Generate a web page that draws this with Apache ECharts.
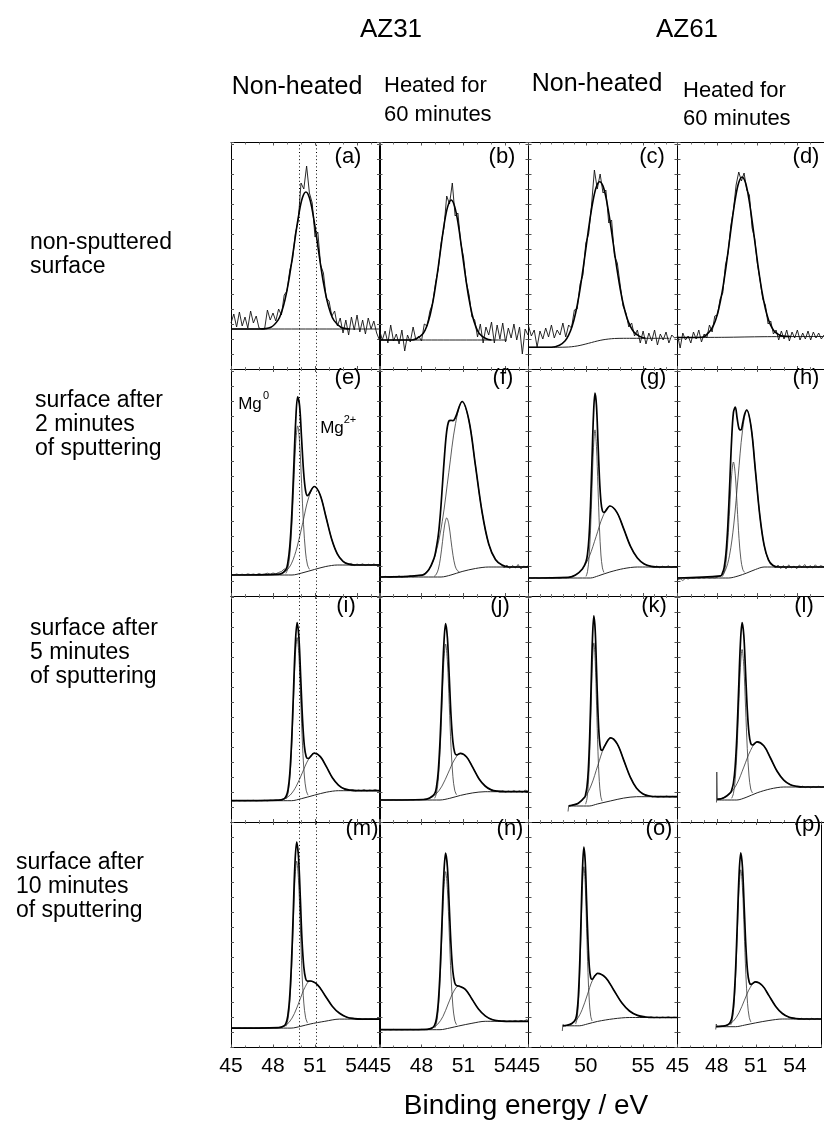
<!DOCTYPE html>
<html>
<head>
<meta charset="utf-8">
<script src="https://cdn.jsdelivr.net/npm/echarts@6/dist/echarts.min.js"></script>
<style>
  html, body { margin: 0; padding: 0; background: #fff; }
  #chart { width: 824px; height: 1133px; }
</style>
</head>
<body>
<div id="chart"></div>
<script>
// ---------- energy grids of the recorded spectra (eV) ----------
const eV_ab = [45,45.2,45.4,45.6,45.8,46,46.2,46.4,46.6,46.8,47,47.2,47.4,47.6,47.8,48,48.2,48.4,48.6,48.8,49,49.2,49.4,49.6,49.8,50,50.2,50.4,50.6,50.8,51,51.2,51.4,51.6,51.8,52,52.2,52.4,52.6,52.8,53,53.2,53.4,53.6,53.8,54,54.2,54.4,54.6,54.8,55,55.2,55.4,55.6];
const eV_c = [45,45.25,45.5,45.75,46,46.25,46.5,46.75,47,47.25,47.5,47.75,48,48.25,48.5,48.75,49,49.25,49.5,49.75,50,50.25,50.5,50.75,51,51.25,51.5,51.75,52,52.25,52.5,52.75,53,53.25,53.5,53.75,54,54.25,54.5,54.75,55,55.25,55.5,55.75,56,56.25,56.5,56.75,57,57.25,57.5,57.75,58];
const eV_d = [45,45.2,45.4,45.6,45.8,46,46.2,46.4,46.6,46.8,47,47.2,47.4,47.6,47.8,48,48.2,48.4,48.6,48.8,49,49.2,49.4,49.6,49.8,50,50.2,50.4,50.6,50.8,51,51.2,51.4,51.6,51.8,52,52.2,52.4,52.6,52.8,53,53.2,53.4,53.6,53.8,54,54.2,54.4,54.6,54.8,55,55.2,55.4,55.6,55.8,56];

// ---------- non-sputtered surfaces: counts, fit, background ----------
const a_raw = [4.6,5.5,4.2,5.7,4.3,5.2,4.1,5.8,4.6,5.3,4.1,4.0,4.0,5.9,4.9,5.6,4.8,6.0,5.4,7.4,7.8,9.9,11.0,13.6,14.8,18.6,18.0,20.3,17.6,16.6,13.2,13.7,10.4,9.6,7.1,6.8,5.3,5.8,4.3,5.1,3.6,4.9,3.4,5.2,3.9,5.4,3.7,4.9,3.5,5.1,4.0,4.8,3.6,2.9];
const a_fit = [[45,4.0],[47.0,4.0],[47.85,4.18],[48.35,4.86],[48.6,5.64],[48.85,6.89],[49.1,8.64],[49.35,10.85],[49.6,13.29],[49.85,15.52],[50.1,17.12],[50.35,17.7],[50.6,17.12],[50.85,15.52],[51.1,13.29],[51.35,10.85],[51.6,8.64],[51.85,6.89],[52.1,5.64],[52.35,4.86],[52.85,4.18],[53.5,4.0]];
const a_bg = [[45,4.0],[55.64,4.0]];

const b_raw = [3.9,2.9,3.8,2.6,4.4,2.8,3.5,2.5,3.9,1.8,3.4,2.7,4.2,2.9,3.3,2.8,4.5,4.3,5.8,6.6,8.6,10.0,12.6,14.1,17.3,16.5,18.6,15.3,15.6,12.6,11.2,8.7,7.4,5.2,4.9,3.2,4.5,2.6,4.2,3.4,4.7,2.6,4.4,3.0,4.6,2.7,4.1,3.1,4.5,2.9,4.2,1.5,4.0,3.4];
const b_fit = [[45,2.9],[47.3,2.9],[47.62,3.02],[48.12,3.56],[48.37,4.26],[48.62,5.42],[48.87,7.16],[49.12,9.44],[49.37,12.01],[49.62,14.48],[49.87,16.24],[50.12,16.9],[50.37,16.24],[50.62,14.48],[50.87,12.01],[51.12,9.44],[51.37,7.16],[51.62,5.42],[51.87,4.26],[52.12,3.56],[52.62,3.02],[53.0,2.9]];
const b_bg = [[45,2.9],[54.1,2.9]];

const c_raw = [4.3,3.3,3.9,2.2,3.8,3.0,4.1,3.2,4.4,3.1,3.9,3.4,4.6,3.2,4.4,4.1,5.9,6.0,8.5,9.4,12.6,13.5,16.4,19.9,18.0,19.5,17.6,17.9,14.6,14.9,11.3,10.6,8.4,6.3,5.6,4.2,4.6,3.3,3.9,2.6,3.8,2.5,3.6,2.8,3.9,2.4,3.5,2.9,3.7,2.6,3.4,3.1,3.2];
const c_fit = [[45,2.17],[47.0,2.17],[47.7,2.37],[48.2,2.83],[48.5,3.39],[48.8,4.25],[49.1,5.55],[49.4,7.32],[49.7,9.53],[50.0,11.99],[50.3,14.49],[50.6,16.65],[50.9,18.15],[51.2,18.73],[51.5,18.29],[51.8,16.92],[52.1,14.88],[52.4,12.5],[52.7,10.13],[53.0,8.02],[53.3,6.32],[53.6,5.07],[53.9,4.23],[54.2,3.69],[54.7,3.26],[55.2,3.07]];
const c_bg = [[45,2.17],[47.5,2.17],[48.5,2.2],[49,2.26],[49.5,2.36],[50,2.5],[50.5,2.65],[51,2.8],[51.5,2.92],[52,3.0],[52.5,3.05],[53.3,3.07],[57.3,3.07]];

const d_raw = [3.4,2.1,3.6,2.9,3.3,2.6,3.7,3.0,3.9,2.7,3.5,3.1,4.4,3.7,5.3,5.4,7.0,7.6,10.4,11.6,14.3,15.9,18.4,19.7,18.8,19.6,17.9,17.4,14.1,13.0,10.5,8.9,7.0,6.4,4.5,4.8,3.5,3.9,2.9,3.8,3.0,3.9,2.8,3.7,3.1,3.9,2.9,3.6,3.0,3.8,2.9,3.7,3.1,3.6,3.0,3.4];
const d_fit = [[45,3.15],[46.85,3.18],[47.35,3.66],[47.6,4.11],[47.85,4.86],[48.1,6.03],[48.35,7.68],[48.6,9.81],[48.85,12.29],[49.1,14.83],[49.35,17.09],[49.6,18.64],[49.85,19.2],[50.1,18.64],[50.35,17.09],[50.6,14.83],[50.85,12.29],[51.1,9.81],[51.35,7.68],[51.6,6.03],[51.85,4.86],[52.1,4.11],[52.35,3.66],[52.85,3.3],[53.5,3.25]];
const d_bg = [[45,3.15],[48.5,3.17],[51.5,3.23],[56,3.25]];

// ---------- sputtered surfaces: background, Mg0, Mg2+, envelope, counts (tails) ----------
const e_bg = [[45,2.1],[49.36,2.1],[50.06,2.3],[50.95,2.65],[51.77,2.95],[52.59,3.1],[55.64,3.1]];
const e_mg0 = [[48.92,2.26],[49.06,2.75],[49.2,4.1],[49.34,6.91],[49.48,11.11],[49.62,15.24],[49.76,17.01],[49.9,15.32],[50.04,11.27],[50.18,7.16],[50.32,4.4],[50.46,3.11],[50.6,2.67]];
const e_mg2 = [[48.49,2.19],[48.9,2.47],[49.31,3.22],[49.72,4.9],[50.13,7.36],[50.54,9.82],[50.95,10.95],[51.36,10.13],[51.77,7.98],[52.18,5.73],[52.59,4.22],[53.0,3.47],[53.41,3.19]];
const e_fit = [[45,2.1],[48.49,2.19],[48.92,2.64],[49.06,3.34],[49.2,4.96],[49.34,8.12],[49.48,12.77],[49.62,17.47],[49.76,19.91],[49.9,18.98],[50.04,15.75],[50.18,12.5],[50.32,10.57],[50.46,10.04],[50.54,10.12],[50.95,10.95],[51.36,10.13],[51.77,7.98],[52.18,5.73],[52.59,4.22],[53.0,3.47],[53.41,3.19],[53.9,3.1],[55.64,3.1]];
const e_raw = [[45,2.15],[45.2,2.1],[45.4,2.2],[45.6,2.12],[45.8,2.18],[46,2.1],[46.2,2.22],[46.4,2.14],[46.6,2.2],[46.8,2.12],[47,2.25],[47.2,2.15],[47.4,2.2],[47.6,2.28],[47.8,2.18],[48,2.3],[48.2,2.22],[48.4,2.35],[48.6,2.45],[48.8,2.7],[48.92,2.64],[49,null],[53.41,3.19],[53.6,3.26],[53.8,3.05],[54,3.2],[54.2,3.1],[54.4,3.22],[54.6,3.05],[54.8,3.18],[55,3.08],[55.2,3.2],[55.4,3.1],[55.6,3.15]];

const f_bg = [[45,1.9],[49.4,1.9],[50.1,2.1],[50.9,2.45],[51.85,2.75],[52.8,2.9],[55.64,2.9]];
const f_mg0 = [[48.9,1.96],[49.05,2.16],[49.2,2.68],[49.35,3.78],[49.5,5.45],[49.65,7.09],[49.8,7.81],[49.95,7.18],[50.1,5.62],[50.25,4.05],[50.4,3.01],[50.55,2.56],[50.7,2.42]];
const f_mg2 = [[48.05,2.09],[48.53,2.65],[49.0,4.2],[49.48,7.44],[49.95,12.37],[50.43,17.24],[50.9,19.45],[51.38,17.6],[51.85,13.06],[52.33,8.35],[52.8,5.2],[53.28,3.65],[53.75,3.09]];
const f_fit = [[45,1.9],[48.05,2.09],[48.53,2.65],[48.9,3.8],[49.0,4.36],[49.2,6.08],[49.35,8.28],[49.5,11.23],[49.65,14.19],[49.8,16.48],[49.95,17.49],[50.1,17.57],[50.25,17.53],[50.43,17.88],[50.9,19.45],[51.38,17.6],[51.85,13.06],[52.33,8.35],[52.8,5.2],[53.28,3.65],[53.75,3.09],[54.2,2.9],[55.64,2.9]];
const f_raw = [[45,1.95],[45.2,1.88],[45.4,1.97],[45.6,1.9],[45.8,1.85],[46,1.96],[46.2,1.9],[46.4,2.0],[46.6,1.88],[46.8,1.97],[47,1.92],[47.2,2.02],[47.4,1.9],[47.6,2.0],[47.8,2.06],[48.05,2.09],[48.1,null],[53.75,3.09],[53.9,2.8],[54.1,3.1],[54.3,2.75],[54.5,3.05],[54.7,2.8],[54.9,3.15],[55.1,2.7],[55.3,3.0],[55.5,2.85],[55.64,3.1]];

const g_bg = [[45,1.8],[50.4,1.8],[51.1,2.02],[52.1,2.4],[53.3,2.74],[54.5,2.9],[58,2.9]];
const g_mg0 = [[50.02,1.96],[50.15,2.45],[50.28,3.79],[50.41,6.58],[50.54,10.76],[50.67,14.85],[50.8,16.61],[50.93,14.95],[51.06,10.93],[51.19,6.84],[51.32,4.1],[51.45,2.81],[51.58,2.36]];
const g_mg2 = [[48.5,1.87],[49.1,2.09],[49.7,2.69],[50.3,3.94],[50.9,5.95],[51.5,7.99],[52.1,9.0],[52.7,8.39],[53.3,6.74],[53.9,4.96],[54.5,3.79],[55.1,3.19],[55.7,2.97]];
const g_fit = [[45,1.8],[48.5,1.87],[49.1,2.09],[49.7,2.69],[50.02,3.44],[50.15,4.21],[50.28,5.87],[50.41,9.03],[50.54,13.6],[50.67,18.1],[50.8,20.29],[50.93,19.05],[51.06,15.46],[51.19,11.79],[51.32,9.45],[51.45,8.51],[51.58,8.36],[52.1,9.0],[52.7,8.39],[53.3,6.74],[53.9,4.96],[54.5,3.79],[55.1,3.19],[55.7,2.97],[56.5,2.9],[58,2.9]];
const g_raw = [[45,1.85],[45.3,1.78],[45.6,1.84],[45.9,1.77],[46.2,1.83],[46.5,1.79],[46.8,1.86],[47.1,1.8],[47.4,1.85],[47.7,1.78],[48.0,1.86],[48.3,1.82],[48.5,1.87],[48.6,null],[55.7,2.97],[55.95,2.85],[56.2,3.0],[56.45,2.82],[56.7,2.98],[56.95,2.86],[57.2,3.02],[57.45,2.85],[57.7,2.96],[58,2.88]];

const h_bg = [[45,1.8],[48.85,1.8],[49.55,2.0],[50.2,2.3],[50.85,2.65],[51.5,2.9],[56,2.9]];
const h_mg0 = [[48.36,1.93],[48.5,2.3],[48.64,3.36],[48.78,5.53],[48.92,8.79],[49.06,12.01],[49.2,13.4],[49.34,12.09],[49.48,8.95],[49.62,5.76],[49.76,3.66],[49.9,2.66],[50.04,2.36]];
const h_mg2 = [[48.25,1.98],[48.58,2.52],[48.9,4.02],[49.23,7.2],[49.55,11.89],[49.88,16.53],[50.2,18.6],[50.53,16.86],[50.85,12.54],[51.18,8.07],[51.5,5.11],[51.83,3.62],[52.15,3.08]];
const h_fit = [[45,1.8],[48.25,2.02],[48.36,2.23],[48.5,2.82],[48.64,4.27],[48.78,7.03],[48.92,11.14],[49.06,15.53],[49.2,18.37],[49.34,18.9],[49.48,17.75],[49.62,16.73],[49.76,16.6],[49.9,17.33],[50.04,18.17],[50.2,18.6],[50.53,16.86],[50.85,12.54],[51.18,8.07],[51.5,5.11],[51.83,3.62],[52.15,3.08],[52.6,2.9],[56,2.9]];
const h_raw = [[45,1.6],[45.2,1.72],[45.4,1.55],[45.6,1.78],[45.8,1.7],[46,1.82],[46.2,1.75],[46.4,1.85],[46.6,1.76],[46.8,1.83],[47,1.78],[47.2,1.86],[47.4,1.79],[47.6,1.84],[47.8,1.8],[48,1.88],[48.25,2.02],[48.3,null],[52.15,3.08],[52.35,2.8],[52.55,3.1],[52.75,2.75],[52.95,3.05],[53.15,2.7],[53.35,3.12],[53.55,2.8],[53.75,3.0],[53.95,2.72],[54.15,3.1],[54.35,2.85],[54.55,3.15],[54.75,2.78],[54.95,3.05],[55.15,2.8],[55.35,3.12],[55.55,2.85],[55.75,3.05],[56,2.9]];

const i_bg = [[45,2.13],[49.32,2.13],[50.02,2.33],[50.95,2.68],[51.81,2.98],[52.67,3.13],[55.64,3.13]];
const i_mg0 = [[48.94,2.31],[49.07,2.84],[49.2,4.32],[49.33,7.39],[49.46,12.0],[49.59,16.51],[49.72,18.44],[49.85,16.58],[49.98,12.15],[50.11,7.62],[50.24,4.6],[50.37,3.17],[50.5,2.68]];
const i_mg2 = [[48.37,2.18],[48.8,2.31],[49.23,2.7],[49.66,3.58],[50.09,4.91],[50.52,6.23],[50.95,6.88],[51.38,6.54],[51.81,5.53],[52.24,4.42],[52.67,3.7],[53.1,3.31],[53.53,3.18]];
const i_fit = [[45,2.13],[48.37,2.18],[48.8,2.33],[48.94,2.58],[49.07,3.22],[49.2,4.85],[49.33,8.11],[49.46,12.94],[49.59,17.71],[49.72,19.95],[49.85,18.43],[49.98,14.37],[50.11,10.22],[50.24,7.58],[50.37,6.53],[50.5,6.35],[50.95,6.88],[51.38,6.54],[51.81,5.53],[52.24,4.42],[52.67,3.7],[53.1,3.31],[53.53,3.18],[54,3.13],[55.64,3.13]];
const i_raw = [[45,2.15],[45.2,2.11],[45.4,2.16],[45.6,2.12],[45.8,2.15],[46,2.11],[46.2,2.16],[46.4,2.13],[46.6,2.17],[46.8,2.12],[47,2.16],[47.2,2.13],[47.4,2.17],[47.6,2.12],[47.8,2.18],[48,2.14],[48.2,2.2],[48.37,2.18],[48.4,null],[53.53,3.18],[53.7,3.22],[53.9,3.1],[54.1,3.2],[54.3,3.12],[54.5,3.24],[54.7,3.1],[54.9,3.2],[55.1,3.14],[55.3,3.25],[55.5,3.12],[55.64,3.18]];

const j_bg = [[45,2.2],[49.32,2.2],[50.02,2.37],[50.78,2.66],[51.66,2.91],[52.54,3.03],[55.64,3.03]];
const j_mg0 = [[48.94,2.37],[49.07,2.88],[49.2,4.3],[49.33,7.23],[49.46,11.63],[49.59,15.94],[49.72,17.8],[49.85,16.01],[49.98,11.76],[50.11,7.43],[50.24,4.55],[50.37,3.18],[50.5,2.72]];
const j_mg2 = [[48.14,2.25],[48.58,2.38],[49.02,2.77],[49.46,3.59],[49.9,4.89],[50.34,6.2],[50.78,6.86],[51.22,6.5],[51.66,5.46],[52.1,4.33],[52.54,3.6],[52.98,3.21],[53.42,3.08]];
const j_fit = [[45,2.2],[48.14,2.25],[48.58,2.4],[48.94,2.84],[49.07,3.52],[49.2,5.13],[49.33,8.31],[49.46,13.0],[49.59,17.63],[49.72,19.85],[49.85,18.4],[49.98,14.54],[50.11,10.58],[50.24,8.04],[50.37,6.94],[50.5,6.71],[50.78,6.86],[51.22,6.5],[51.66,5.46],[52.1,4.33],[52.54,3.6],[52.98,3.21],[53.42,3.08],[54,3.03],[55.64,3.03]];
const j_raw = [[45,2.18],[45.2,2.22],[45.4,2.17],[45.6,2.21],[45.8,2.19],[46,2.23],[46.2,2.18],[46.4,2.22],[46.6,2.19],[46.8,2.24],[47,2.2],[47.2,2.23],[47.4,2.19],[47.6,2.24],[47.8,2.21],[48.14,2.25],[48.2,null],[53.42,3.08],[53.6,3.0],[53.8,3.12],[54,2.98],[54.2,3.1],[54.4,3.0],[54.6,3.14],[54.8,3.0],[55,3.12],[55.2,2.96],[55.4,3.18],[55.64,3.05]];

const k_bg = [[48.5,1.6],[50.3,1.6],[51.0,1.8],[52.17,2.11],[53.3,2.39],[54.43,2.53],[58,2.53]];
const k_mg0 = [[49.98,1.78],[50.1,2.31],[50.22,3.79],[50.34,6.87],[50.46,11.48],[50.58,15.98],[50.7,17.91],[50.82,16.05],[50.94,11.61],[51.06,7.08],[51.18,4.04],[51.3,2.59],[51.42,2.09]];
const k_mg2 = [[48.78,1.67],[49.35,1.88],[49.91,2.45],[50.48,3.7],[51.04,5.63],[51.61,7.52],[52.17,8.41],[52.74,7.81],[53.3,6.21],[53.87,4.51],[54.43,3.38],[55.0,2.81],[55.56,2.6]];
const k_fit = [[48.5,1.62],[48.78,1.67],[49.35,1.88],[49.91,2.5],[49.98,2.74],[50.1,3.49],[50.22,5.2],[50.34,8.57],[50.46,13.5],[50.58,18.32],[50.7,20.62],[50.82,19.15],[50.94,15.09],[51.06,10.98],[51.18,8.32],[51.3,7.27],[51.42,7.16],[51.61,7.52],[52.17,8.41],[52.74,7.81],[53.3,6.21],[53.87,4.51],[54.43,3.38],[55.0,2.81],[55.56,2.6],[56.2,2.53],[58,2.53]];
const k_raw = [[48.45,1.05],[48.5,1.55],[48.6,1.62],[48.78,1.67],[48.85,null],[55.56,2.6],[55.8,2.5],[56.05,2.58],[56.3,2.48],[56.55,2.57],[56.8,2.5],[57.05,2.6],[57.3,2.49],[57.55,2.56],[57.8,2.5],[58,2.55]];

const l_bg = [[47.96,2.2],[49.45,2.2],[50.15,2.46],[50.98,2.92],[51.98,3.31],[52.98,3.5],[56,3.5]];
const l_mg0 = [[49.07,2.37],[49.2,2.85],[49.33,4.22],[49.46,7.04],[49.59,11.29],[49.72,15.45],[49.85,17.25],[49.98,15.55],[50.11,11.49],[50.24,7.35],[50.37,4.6],[50.5,3.3],[50.63,2.9]];
const l_mg2 = [[47.98,2.26],[48.48,2.42],[48.98,2.89],[49.48,3.87],[49.98,5.49],[50.48,7.14],[50.98,8.02],[51.48,7.62],[51.98,6.4],[52.48,5.07],[52.98,4.19],[53.48,3.72],[53.98,3.56]];
const l_fit = [[47.98,2.26],[48.48,2.42],[48.98,2.94],[49.07,3.19],[49.2,3.9],[49.33,5.53],[49.46,8.65],[49.59,13.23],[49.72,17.76],[49.85,19.94],[49.98,18.65],[50.11,14.98],[50.24,11.23],[50.37,8.83],[50.5,7.84],[50.63,7.7],[50.98,8.02],[51.48,7.62],[51.98,6.4],[52.48,5.07],[52.98,4.19],[53.48,3.72],[53.98,3.56],[54.5,3.5],[56,3.5]];
const l_raw = [[47.93,1.95],[47.95,5.0],[47.99,2.3],[48.2,2.28],[48.4,2.38],[48.48,2.42],[48.5,null],[53.98,3.56],[54.2,3.45],[54.4,3.58],[54.6,3.44],[54.8,3.56],[55.0,3.42],[55.2,3.55],[55.4,3.45],[55.6,3.57],[55.8,3.46],[56,3.52]];

const m_bg = [[45,1.94],[49.29,1.94],[49.99,2.12],[50.65,2.35],[51.7,2.62],[52.75,2.84],[55.64,2.84]];
const m_mg0 = [[48.925,2.12],[49.05,2.67],[49.18,4.19],[49.31,7.33],[49.44,12.05],[49.56,16.66],[49.69,18.64],[49.82,16.73],[49.95,12.18],[50.07,7.54],[50.2,4.44],[50.33,2.97],[50.46,2.46]];
const m_mg2 = [[48.4,1.99],[48.78,2.13],[49.15,2.52],[49.53,3.4],[49.9,4.7],[50.28,6.02],[50.65,6.65],[51.18,6.27],[51.7,5.23],[52.23,4.13],[52.75,3.42],[53.28,3.03],[53.8,2.89]];
const m_fit = [[45,1.94],[48.4,1.99],[48.78,2.15],[48.925,2.43],[49.05,3.11],[49.18,4.82],[49.31,8.19],[49.44,13.22],[49.56,18.16],[49.69,20.54],[49.82,19.05],[49.95,14.97],[50.07,10.74],[50.2,8.03],[50.33,6.89],[50.46,6.63],[50.65,6.65],[51.18,6.27],[51.7,5.23],[52.23,4.13],[52.75,3.42],[53.28,3.03],[53.8,2.89],[54.3,2.84],[55.64,2.84]];
const m_raw = [[45,1.92],[45.2,1.96],[45.4,1.93],[45.6,1.97],[45.8,1.92],[46,1.96],[46.2,1.93],[46.4,1.97],[46.6,1.92],[46.8,1.96],[47,1.94],[47.2,1.98],[47.4,1.93],[47.6,1.97],[47.8,1.94],[48,1.98],[48.2,1.95],[48.4,1.99],[48.45,null],[53.8,2.89],[54,2.82],[54.2,2.9],[54.4,2.8],[54.6,2.88],[54.8,2.82],[55,2.9],[55.2,2.83],[55.4,2.88],[55.64,2.84]];

const n_bg = [[45,1.78],[49.32,1.78],[50.02,1.95],[50.65,2.15],[51.6,2.42],[52.55,2.62],[55.64,2.62]];
const n_mg0 = [[48.94,1.95],[49.07,2.47],[49.2,3.9],[49.33,6.88],[49.46,11.34],[49.59,15.71],[49.72,17.58],[49.85,15.77],[49.98,11.46],[50.11,7.08],[50.24,4.14],[50.37,2.75],[50.5,2.27]];
const n_mg2 = [[48.4,1.82],[48.78,1.96],[49.15,2.32],[49.53,3.1],[49.9,4.35],[50.28,5.56],[50.65,6.15],[51.13,5.82],[51.6,4.85],[52.08,3.82],[52.55,3.16],[53.03,2.8],[53.5,2.66]];
const n_fit = [[45,1.78],[48.4,1.82],[48.78,1.98],[48.94,2.25],[49.07,2.9],[49.2,4.52],[49.33,7.73],[49.46,12.47],[49.59,17.19],[49.72,19.43],[49.85,18.03],[49.98,14.15],[50.11,10.17],[50.24,7.58],[50.37,6.49],[50.5,6.19],[50.65,6.15],[51.13,5.82],[51.6,4.85],[52.08,3.82],[52.55,3.16],[53.03,2.8],[53.5,2.66],[54,2.62],[55.64,2.62]];
const n_raw = [[45,1.76],[45.2,1.8],[45.4,1.77],[45.6,1.8],[45.8,1.76],[46,1.81],[46.2,1.77],[46.4,1.8],[46.6,1.76],[46.8,1.8],[47,1.78],[47.2,1.81],[47.4,1.77],[47.6,1.8],[47.8,1.78],[48,1.81],[48.2,1.79],[48.4,1.82],[48.45,null],[53.5,2.66],[53.7,2.6],[53.9,2.68],[54.1,2.58],[54.3,2.66],[54.5,2.6],[54.7,2.7],[54.9,2.58],[55.1,2.72],[55.3,2.62],[55.5,2.78],[55.64,2.68]];

const o_bg = [[48.0,2.17],[49.43,2.17],[50.13,2.35],[51.03,2.61],[52.42,2.87],[53.8,3.0],[58,3.0]];
const o_mg0 = [[49.11,2.35],[49.23,2.86],[49.35,4.31],[49.47,7.31],[49.59,11.78],[49.71,16.18],[49.83,18.07],[49.95,16.24],[50.07,11.91],[50.19,7.5],[50.31,4.54],[50.43,3.12],[50.55,2.65]];
const o_mg2 = [[48.33,2.22],[48.78,2.38],[49.23,2.82],[49.68,3.79],[50.13,5.26],[50.58,6.72],[51.03,7.41],[51.73,6.98],[52.42,5.78],[53.12,4.5],[53.81,3.65],[54.51,3.21],[55.2,3.05]];
const o_fit = [[48.0,2.17],[48.33,2.22],[48.78,2.4],[49.11,2.84],[49.23,3.51],[49.35,5.15],[49.47,8.39],[49.59,13.11],[49.71,17.81],[49.83,20.05],[49.95,18.58],[50.07,14.62],[50.19,10.61],[50.31,8.02],[50.43,6.96],[50.55,6.82],[50.8,7.18],[51.03,7.41],[51.73,6.98],[52.42,5.78],[53.12,4.5],[53.81,3.65],[54.51,3.21],[55.2,3.05],[56,3.0],[58,3.0]];
const o_raw = [[47.95,1.65],[48.0,2.3],[48.1,2.2],[48.2,2.15],[48.33,2.22],[48.4,null],[55.2,3.05],[55.45,2.98],[55.7,3.06],[55.95,2.97],[56.2,3.05],[56.45,2.96],[56.7,3.04],[56.95,2.98],[57.2,3.07],[57.45,2.97],[57.7,3.03],[58,2.99]];

const p_bg = [[47.96,2.08],[49.45,2.08],[50.15,2.24],[50.98,2.46],[52.01,2.7],[53.04,2.85],[56,2.85]];
const p_mg0 = [[49.07,2.25],[49.2,2.76],[49.33,4.19],[49.46,7.15],[49.59,11.57],[49.72,15.91],[49.85,17.77],[49.98,15.97],[50.11,11.69],[50.24,7.33],[50.37,4.41],[50.5,3.01],[50.63,2.54]];
const p_mg2 = [[48.43,2.13],[48.86,2.26],[49.28,2.63],[49.71,3.46],[50.13,4.73],[50.56,5.97],[50.98,6.56],[51.5,6.2],[52.01,5.19],[52.53,4.11],[53.04,3.4],[53.56,3.03],[54.07,2.9]];
const p_fit = [[47.96,2.08],[48.43,2.13],[48.86,2.27],[49.07,2.58],[49.2,3.22],[49.33,4.81],[49.46,7.97],[49.59,12.64],[49.72,17.28],[49.85,19.46],[49.98,18.01],[50.11,14.13],[50.24,10.14],[50.37,7.58],[50.5,6.52],[50.63,6.31],[50.98,6.56],[51.5,6.2],[52.01,5.19],[52.53,4.11],[53.04,3.4],[53.56,3.03],[54.07,2.9],[54.6,2.85],[56,2.85]];
const p_raw = [[47.93,1.8],[47.97,2.35],[48.05,2.1],[48.2,2.12],[48.43,2.13],[48.5,null],[54.07,2.9],[54.3,2.82],[54.5,2.92],[54.7,2.8],[54.9,2.9],[55.1,2.78],[55.3,2.93],[55.5,2.8],[55.7,2.9],[55.9,2.82],[56,2.88]];

// ---------- axes ----------
const colRange = [[45, 55.64], [45, 55.64], [45, 58], [45, 56]];
const colStep = [3, 3, 5, 3];
const colTickLabels = [[45, 48, 51, 54], [45, 48, 51, 54], [45, 50, 55], [45, 48, 51, 54]];
const mgRefEnergies = [49.85, 51.1];   // Mg0 and Mg2+ reference positions

// ---------- text ----------
const alloyNames = ['AZ31', 'AZ61'];
const panelTags = ['(a)','(b)','(c)','(d)','(e)','(f)','(g)','(h)','(i)','(j)','(k)','(l)','(m)','(n)','(o)','(p)'];
const rowText = [['non-sputtered', 'surface'], ['surface after', '2 minutes', 'of sputtering'], ['surface after', '5 minutes', 'of sputtering'], ['surface after', '10 minutes', 'of sputtering']];
const xTitle = 'Binding energy / eV';

// ---------- layout ----------
const FONT = "'Liberation Sans', Arial, Helvetica, sans-serif";
const colLeft = [231, 379.5, 528.5, 677.5];
const colWidth = 149;
const rowTop = [142.5, 369, 596, 822];
const rowHeight = [226.5, 227, 226, 225.5];

const zip = (xs, ys) => xs.map((x, k) => [x, ys[k]]);

const panels = [
  { col: 0, row: 0, raw: zip(eV_ab, a_raw), fit: a_fit, bg: a_bg },
  { col: 1, row: 0, raw: zip(eV_ab, b_raw), fit: b_fit, bg: b_bg },
  { col: 2, row: 0, raw: zip(eV_c, c_raw), fit: c_fit, bg: c_bg },
  { col: 3, row: 0, raw: zip(eV_d, d_raw), fit: d_fit, bg: d_bg },
  { col: 0, row: 1, raw: e_raw, fit: e_fit, bg: e_bg, mg0: e_mg0, mg2: e_mg2 },
  { col: 1, row: 1, raw: f_raw, fit: f_fit, bg: f_bg, mg0: f_mg0, mg2: f_mg2 },
  { col: 2, row: 1, raw: g_raw, fit: g_fit, bg: g_bg, mg0: g_mg0, mg2: g_mg2 },
  { col: 3, row: 1, raw: h_raw, fit: h_fit, bg: h_bg, mg0: h_mg0, mg2: h_mg2 },
  { col: 0, row: 2, raw: i_raw, fit: i_fit, bg: i_bg, mg0: i_mg0, mg2: i_mg2 },
  { col: 1, row: 2, raw: j_raw, fit: j_fit, bg: j_bg, mg0: j_mg0, mg2: j_mg2 },
  { col: 2, row: 2, raw: k_raw, fit: k_fit, bg: k_bg, mg0: k_mg0, mg2: k_mg2 },
  { col: 3, row: 2, raw: l_raw, fit: l_fit, bg: l_bg, mg0: l_mg0, mg2: l_mg2 },
  { col: 0, row: 3, raw: m_raw, fit: m_fit, bg: m_bg, mg0: m_mg0, mg2: m_mg2 },
  { col: 1, row: 3, raw: n_raw, fit: n_fit, bg: n_bg, mg0: n_mg0, mg2: n_mg2 },
  { col: 2, row: 3, raw: o_raw, fit: o_fit, bg: o_bg, mg0: o_mg0, mg2: o_mg2 },
  { col: 3, row: 3, raw: p_raw, fit: p_fit, bg: p_bg, mg0: p_mg0, mg2: p_mg2 }
];

const grid = [], xAxis = [], yAxis = [], series = [];
const frameLine = { show: true, onZero: false, lineStyle: { color: '#000', width: 1 } };
const tickStyle = { show: true, inside: true, length: 3, lineStyle: { color: '#555', width: 1 } };

panels.forEach((p, i) => {
  const c = p.col, r = p.row;
  grid.push({ left: colLeft[c], top: rowTop[r], width: colWidth, height: rowHeight[r], containLabel: false });
  const labels = colTickLabels[c];
  const common = {
    type: 'value', gridIndex: i, min: colRange[c][0], max: colRange[c][1], interval: colStep[c],
    axisLine: frameLine, axisTick: tickStyle,
    minorTick: { show: true, splitNumber: colStep[c], length: 2, lineStyle: { color: '#777' } },
    splitLine: { show: false }
  };
  xAxis.push(Object.assign({}, common, {
    position: 'bottom',
    axisLabel: {
      show: r === 3, color: '#000', fontSize: 21, fontFamily: FONT, margin: 8,
      showMinLabel: true, showMaxLabel: true,
      formatter: v => (labels.indexOf(Math.round(v * 1000) / 1000) >= 0 ? String(v) : '')
    }
  }));
  xAxis.push(Object.assign({}, common, { position: 'top', axisLabel: { show: false } }));
  const yCommon = {
    type: 'value', gridIndex: i, min: 0, max: rowHeight[r] / 10, interval: 1.5,
    axisLine: frameLine, axisTick: tickStyle, axisLabel: { show: false }, splitLine: { show: false }
  };
  yAxis.push(Object.assign({}, yCommon, { position: 'left' }));
  yAxis.push(Object.assign({}, yCommon, { position: 'right', axisTick: Object.assign({}, tickStyle, { show: c !== 3 }) }));

  const ax = { xAxisIndex: 2 * i, yAxisIndex: 2 * i };
  const base = Object.assign({ type: 'line', symbol: 'none', silent: true, animation: false, clip: true }, ax);

  const bgSeries = Object.assign({}, base, {
    data: p.bg, smooth: 0.3, lineStyle: { color: '#222', width: 1 }, z: 2
  });
  if (c === 0) {
    bgSeries.markLine = {
      silent: true, symbol: 'none', animation: false, label: { show: false },
      lineStyle: { color: '#000', width: 1, type: [1, 2.6] },
      data: mgRefEnergies.map(v => ({ xAxis: v }))
    };
  }
  series.push(bgSeries);

  if (r === 0) {
    series.push(Object.assign({}, base, { data: p.raw, lineStyle: { color: '#111', width: 0.9 }, z: 3 }));
    series.push(Object.assign({}, base, { data: p.fit, smooth: 0.35, lineStyle: { color: '#000', width: 1.6 }, z: 4 }));
  } else {
    series.push(Object.assign({}, base, { data: p.mg0, smooth: 0.35, lineStyle: { color: '#333', width: 0.8 }, z: 3 }));
    series.push(Object.assign({}, base, { data: p.mg2, smooth: 0.35, lineStyle: { color: '#333', width: 0.8 }, z: 3 }));
    series.push(Object.assign({}, base, { data: p.raw, connectNulls: false, lineStyle: { color: '#333', width: 0.8 }, z: 3 }));
    series.push(Object.assign({}, base, { data: p.fit, smooth: 0.35, lineStyle: { color: '#000', width: 1.7 }, z: 4 }));
  }
});

// ---------- annotations ----------
function txt(text, x, y, size, align) {
  align = align || 'center';
  return {
    type: 'text', x: x, y: y, silent: true, z: 100,
    style: { text: text, font: size + 'px ' + FONT, fill: '#000',
             textAlign: align, textVerticalAlign: 'middle', align: align, verticalAlign: 'middle' }
  };
}
const graphics = [];
graphics.push(txt(alloyNames[0], 391, 30, 26));
graphics.push(txt(alloyNames[1], 687, 30, 26));
graphics.push(txt('Non-heated', 297, 87, 25));
graphics.push(txt('Heated for', 384, 86, 22, 'left'));
graphics.push(txt('60 minutes', 384, 115, 22, 'left'));
graphics.push(txt('Non-heated', 597, 84, 25));
graphics.push(txt('Heated for', 683, 91, 22, 'left'));
graphics.push(txt('60 minutes', 683, 119, 22, 'left'));

const rowTextX = [30, 35, 30, 16];
const rowTextY = [243, 401, 629, 863];
rowText.forEach((lines, r) => {
  lines.forEach((s, k) => graphics.push(txt(s, rowTextX[r], rowTextY[r] + 24 * k, 23, 'left')));
});

const tagPos = [[348,157],[502,157],[652,157],[806,157],[348,378],[503,378],[653,378],[806,378],
                [346,606],[500,606],[654,606],[804,606],[362,829],[510,829],[659,829],[808,825]];
panelTags.forEach((t, k) => graphics.push(txt(t, tagPos[k][0], tagPos[k][1], 22)));

graphics.push(txt('Mg', 250, 404, 17));
graphics.push(txt('0', 266, 396, 11));
graphics.push(txt('Mg', 332, 428, 17));
graphics.push(txt('2+', 350, 420, 11));

graphics.push(txt(xTitle, 526, 1106, 28));

const chart = echarts.init(document.getElementById('chart'), null, { renderer: 'canvas' });
chart.setOption({
  animation: false,
  backgroundColor: '#ffffff',
  grid: grid, xAxis: xAxis, yAxis: yAxis, series: series,
  graphic: { elements: graphics }
});
</script>
</body>
</html>
